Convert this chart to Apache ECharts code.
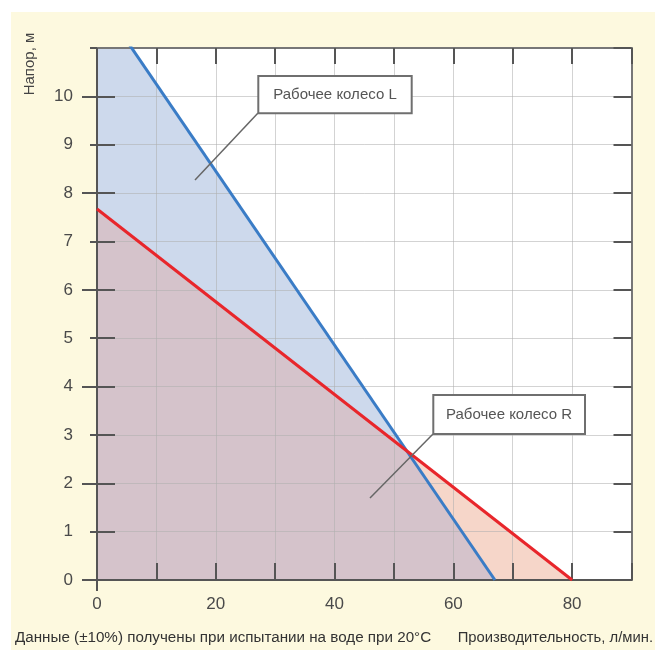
<!DOCTYPE html>
<html>
<head>
<meta charset="utf-8">
<script src="https://cdn.jsdelivr.net/npm/echarts@6/dist/echarts.min.js"></script>
<style>
html,body{margin:0;padding:0;background:#ffffff;width:657px;height:650px;overflow:hidden;}
#c{position:absolute;left:11px;top:12px;width:644px;height:638px;}
</style>
</head>
<body>
<div id="c"></div>
<script>
// Data
const bladeL = [[0, 12.05], [67, 0]];   // Рабочее колесо L
const bladeR = [[0, 7.67], [80, 0]];    // Рабочее колесо R
const xLabelStep = 20;
const xMin = 0, xMax = 90, xStep = 10;
const yMin = 0, yMax = 11, yStep = 1;
const yLongTicks = [0, 2, 4, 6, 8, 10];
const labelL = 'Рабочее колесо L';
const labelR = 'Рабочее колесо R';
const yName = 'Напор, м';
const noteText = 'Данные (±10%) получены при испытании на воде при 20°C';
const xName = 'Производительность, л/мин.';

// Common region under both curves (under the lower of the two)
function intersect(a, b) {
  const [x1, y1] = a[0], [x2, y2] = a[1], [x3, y3] = b[0], [x4, y4] = b[1];
  const d = (x1 - x2) * (y3 - y4) - (y1 - y2) * (x3 - x4);
  const t = ((x1 - x3) * (y3 - y4) - (y1 - y3) * (x3 - x4)) / d;
  return [x1 + t * (x2 - x1), y1 + t * (y2 - y1)];
}
const cross = intersect(bladeL, bladeR);
const overlap = [bladeR[0], cross, bladeL[1]];

const font = 'Liberation Sans, Arial, sans-serif';
const axisCol = '#555555';
const gridCol = 'rgba(175,175,175,0.55)';

const chart = echarts.init(document.getElementById('c'), null, {renderer: 'canvas'});
const baseX = {type: 'value', min: xMin, max: xMax, interval: xStep, z: 4};
const baseY = {type: 'value', min: yMin, max: yMax, interval: yStep, z: 4};
chart.setOption({
  backgroundColor: '#fdf9df',
  animation: false,
  grid: {left: 86, top: 36, right: 23.5, bottom: 70, show: true, backgroundColor: '#ffffff', borderWidth: 0},
  xAxis: [
    Object.assign({}, baseX, {
      position: 'bottom',
      axisLine: {show: true, onZero: false, lineStyle: {color: axisCol, width: 2}},
      axisTick: {show: true, inside: true, length: 17, lineStyle: {color: axisCol, width: 2}},
      axisLabel: {fontSize: 17, color: '#4a4a4a', fontFamily: font, margin: 16,
        formatter: v => (v % xLabelStep === 0 && v < xMax) ? String(v) : ''},
      splitLine: {show: true, lineStyle: {color: gridCol, width: 1}}
    }),
    Object.assign({}, baseX, {
      position: 'top',
      axisLine: {show: true, onZero: false, lineStyle: {color: '#777777', width: 2}},
      axisTick: {show: true, inside: true, length: 16, lineStyle: {color: axisCol, width: 2}},
      axisLabel: {show: false}, splitLine: {show: false}
    }),
    Object.assign({}, baseX, {
      position: 'bottom', offset: 0,
      axisLine: {show: false},
      axisTick: {show: true, inside: false, length: 11, customValues: [xMin], lineStyle: {color: axisCol, width: 2}},
      axisLabel: {show: false}, splitLine: {show: false}
    })
  ],
  yAxis: [
    Object.assign({}, baseY, {
      position: 'left',
      axisLine: {show: true, onZero: false, lineStyle: {color: axisCol, width: 2}},
      axisTick: {show: true, inside: true, length: 18, lineStyle: {color: axisCol, width: 2}},
      axisLabel: {fontSize: 17, color: '#4a4a4a', fontFamily: font, margin: 24, showMaxLabel: false},
      splitLine: {show: true, lineStyle: {color: gridCol, width: 1}}
    }),
    Object.assign({}, baseY, {
      position: 'right',
      axisLine: {show: true, onZero: false, lineStyle: {color: '#777777', width: 2}},
      axisTick: {show: true, inside: true, length: 18, lineStyle: {color: axisCol, width: 2}},
      axisLabel: {show: false}, splitLine: {show: false}
    }),
    Object.assign({}, baseY, {
      position: 'left', offset: 0,
      axisLine: {show: false},
      axisTick: {show: true, inside: false, length: 7, lineStyle: {color: axisCol, width: 2}},
      axisLabel: {show: false}, splitLine: {show: false}
    }),
    Object.assign({}, baseY, {
      position: 'left', offset: 0,
      axisLine: {show: false},
      axisTick: {show: true, inside: false, length: 15, customValues: yLongTicks, lineStyle: {color: axisCol, width: 2}},
      axisLabel: {show: false}, splitLine: {show: false}
    })
  ],
  series: [
    {type: 'line', data: bladeL, symbol: 'none', z: 1, silent: true,
      lineStyle: {width: 0}, areaStyle: {color: '#cdd9ec', opacity: 1}},
    {type: 'line', data: bladeR, symbol: 'none', z: 2, silent: true,
      lineStyle: {width: 0}, areaStyle: {color: '#f6d6c9', opacity: 1}},
    {type: 'line', data: overlap, symbol: 'none', z: 3, silent: true,
      lineStyle: {width: 0}, areaStyle: {color: '#d5c3cb', opacity: 1}},
    {type: 'line', name: labelL, data: bladeL, symbol: 'none', z: 6,
      lineStyle: {color: '#3a7cc6', width: 3}},
    {type: 'line', name: labelR, data: bladeR, symbol: 'none', z: 7,
      lineStyle: {color: '#e8262b', width: 3}}
  ],
  graphic: {elements: [
    {type: 'text', x: 19, y: 52, rotation: Math.PI / 2, z: 100,
      style: {text: yName, fontSize: 15, fontFamily: font, fill: '#444', align: 'center', verticalAlign: 'middle'}},
    {type: 'text', x: 4, y: 626, z: 100,
      style: {text: noteText, fontSize: 15.2, fontFamily: font, fill: '#333', align: 'left', verticalAlign: 'middle'}},
    {type: 'text', x: 642, y: 626, z: 100,
      style: {text: xName, fontSize: 14.8, fontFamily: font, fill: '#333', align: 'right', verticalAlign: 'middle'}},
    {type: 'line', z: 100, shape: {x1: 247, y1: 101, x2: 184, y2: 168}, style: {stroke: '#666', lineWidth: 1.5}},
    {type: 'rect', z: 100, shape: {x: 247.3, y: 64, width: 153.4, height: 37.3},
      style: {fill: '#ffffff', stroke: '#6f6f6f', lineWidth: 2}},
    {type: 'text', z: 101, x: 324, y: 82.7,
      style: {text: labelL, fontSize: 15, fontFamily: font, fill: '#555', align: 'center', verticalAlign: 'middle'}},
    {type: 'line', z: 100, shape: {x1: 422, y1: 422, x2: 359, y2: 486}, style: {stroke: '#666', lineWidth: 1.5}},
    {type: 'rect', z: 100, shape: {x: 422.3, y: 383, width: 151.7, height: 39},
      style: {fill: '#ffffff', stroke: '#6f6f6f', lineWidth: 2}},
    {type: 'text', z: 101, x: 498, y: 402.5,
      style: {text: labelR, fontSize: 15, fontFamily: font, fill: '#555', align: 'center', verticalAlign: 'middle'}}
  ]}
});
</script>
</body>
</html>
